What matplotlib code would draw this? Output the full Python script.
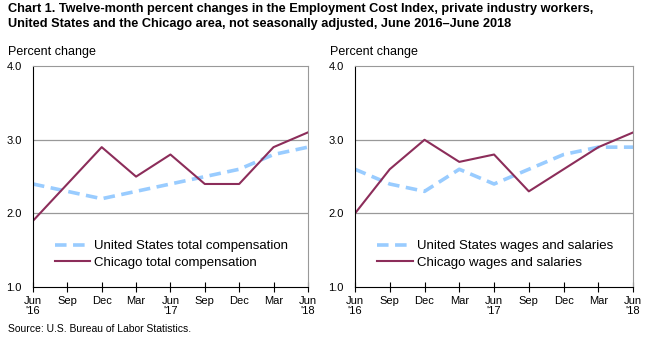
import numpy as np
import matplotlib.pyplot as plt

plt.rcParams['font.family'] = ['Liberation Sans', 'DejaVu Sans']

meses = ["Jun\n'16", "Sep", "Dec", "Mar", "Jun\n'17", "Sep", "Dec", "Mar", "Jun\n'18"]

us_total = [2.4, 2.3, 2.2, 2.3, 2.4, 2.5, 2.6, 2.8, 2.9]
chi_total = [1.9, 2.4, 2.9, 2.5, 2.8, 2.4, 2.4, 2.9, 3.1]
us_wages = [2.6, 2.4, 2.3, 2.6, 2.4, 2.6, 2.8, 2.9, 2.9]
chi_wages = [2.0, 2.6, 3.0, 2.7, 2.8, 2.3, 2.6, 2.9, 3.1]

azul = "#99ccff"
granate = "#8c2d5a"

fig = plt.figure(figsize=(6.53, 3.39), dpi=100)
ax1 = fig.add_axes([0.0505, 0.153, 0.421, 0.652])
ax2 = fig.add_axes([0.5436, 0.153, 0.426, 0.652])

paneles = [
    (ax1, us_total, chi_total, "United States total compensation", "Chicago total compensation"),
    (ax2, us_wages, chi_wages, "United States wages and salaries", "Chicago wages and salaries"),
]

x = np.arange(len(meses))
for ax, us, chi, lab_us, lab_chi in paneles:
    ax.plot(x, us, color=azul, lw=2.6, dashes=(3.2, 1.8), label=lab_us)
    ax.plot(x, chi, color=granate, lw=1.5, label=lab_chi)
    ax.set_xlim(0, 8)
    ax.set_ylim(1.0, 4.0)
    ax.set_yticks([1.0, 2.0, 3.0, 4.0])
    ax.set_yticklabels(["1.0", "2.0", "3.0", "4.0"], fontsize=8)
    ax.set_xticks(x)
    ax.set_xticklabels(meses, fontsize=8, linespacing=1.0)
    ax.tick_params(axis='y', length=0, pad=8)
    ax.tick_params(axis='x', direction='inout', length=7, width=0.8, pad=3)
    for yv in [2.0, 3.0]:
        ax.axhline(yv, color="#999999", lw=0.9, zorder=0)
    ax.spines['top'].set_color("#999999")
    ax.spines['right'].set_color("#999999")
    ax.spines['left'].set_color("black")
    ax.spines['bottom'].set_color("black")
    ax.spines['bottom'].set_zorder(5)
    ax.legend(loc='lower left', bbox_to_anchor=(0.06, 0.06), frameon=False, fontsize=9.5,
              handlelength=2.7, handletextpad=0.3, labelspacing=0.3, borderaxespad=0)

fig.text(0.012, 0.99, "Chart 1. Twelve-month percent changes in the Employment Cost Index, private industry workers,\n"
         "United States and the Chicago area, not seasonally adjusted, June 2016\u2013June 2018",
         fontsize=9.2, fontweight='bold', va='top', ha='left', linespacing=1.3)
fig.text(0.012, 0.83, "Percent change", fontsize=9, va='bottom', ha='left')
fig.text(0.506, 0.83, "Percent change", fontsize=9, va='bottom', ha='left')
fig.text(0.012, 0.015, "Source: U.S. Bureau of Labor Statistics.", fontsize=7.5, va='bottom', ha='left')

fig.savefig("out.png", dpi=100)
